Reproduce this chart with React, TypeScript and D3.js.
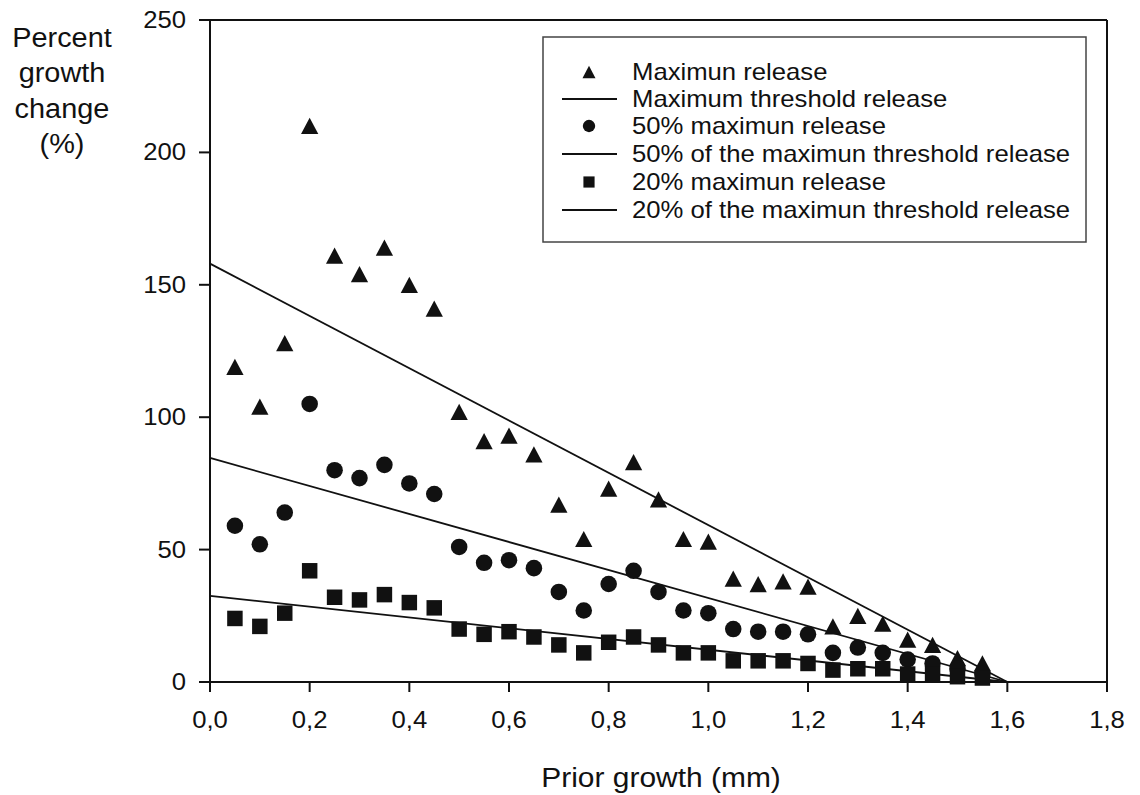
import React from "react";
import * as d3 from "d3";

const priorGrowth = [0.05, 0.1, 0.15, 0.2, 0.25, 0.3, 0.35, 0.4, 0.45, 0.5, 0.55, 0.6, 0.65, 0.7, 0.75, 0.8, 0.85, 0.9, 0.95, 1.0, 1.05, 1.1, 1.15, 1.2, 1.25, 1.3, 1.35, 1.4, 1.45, 1.5, 1.55];
const maxRelease = [119, 104, 128, 210, 161, 154, 164, 150, 141, 102, 91, 93, 86, 67, 54, 73, 83, 69, 54, 53, 39, 37, 38, 36, 21, 25, 22, 16, 14, 9, 7];
const halfRelease = [59, 52, 64, 105, 80, 77, 82, 75, 71, 51, 45, 46, 43, 34, 27, 37, 42, 34, 27, 26, 20, 19, 19, 18, 11, 13, 11, 8.5, 7, 5, 3];
const fifthRelease = [24, 21, 26, 42, 32, 31, 33, 30, 28, 20, 18, 19, 17, 14, 11, 15, 17, 14, 11, 11, 8, 8, 8, 7, 4.5, 5, 5, 3, 3, 2, 1.5];

const thresholdX = [0, 1.6];
const maxThreshold = [158, 0];
const halfThreshold = [84.6, 0];
const fifthThreshold = [32.5, 0];

const xTicks = [0, 0.2, 0.4, 0.6, 0.8, 1.0, 1.2, 1.4, 1.6, 1.8];
const yTicks = [0, 50, 100, 150, 200, 250];
const yTitleLines = ["Percent", "growth", "change", "(%)"];
const legendItems = [
  { label: "Maximun release", kind: "triangle" },
  { label: "Maximum threshold release", kind: "line" },
  { label: "50% maximun release", kind: "circle" },
  { label: "50% of the maximun threshold release", kind: "line" },
  { label: "20% maximun release", kind: "square" },
  { label: "20% of the maximun threshold release", kind: "line" },
];

const FONT = "'Liberation Sans', Arial, Helvetica, sans-serif";
const INK = "#111";
const SX = 1.07;

// triangle a bit taller than equilateral, centred on its bounding box middle
const tallTriangle = {
  draw(context: any, size: number) {
    const w = Math.sqrt(size * 2 / 0.94);
    const h = w * 0.94;
    context.moveTo(0, -h / 2);
    context.lineTo(w / 2, h / 2);
    context.lineTo(-w / 2, h / 2);
    context.closePath();
  },
};

function T(props: { x: number; y: number; size: number; anchor?: string; children: React.ReactNode }) {
  return (
    <text
      transform={`translate(${props.x},${props.y}) scale(${SX},1)`}
      textAnchor={props.anchor || "start"}
      fontSize={props.size}
      fill={INK}
    >
      {props.children}
    </text>
  );
}

export default function App() {
  const x = d3.scaleLinear().domain([0, 1.8]).range([210, 1107]);
  const y = d3.scaleLinear().domain([0, 250]).range([682, 20]);
  const fmt = (v: number) => d3.format(".1f")(v).replace(".", ",");

  const tri = d3.symbol().type(tallTriangle as any).size(140)()!;
  const circ = d3.symbol().type(d3.symbolCircle).size(215)()!;
  const sq = d3.symbol().type(d3.symbolSquare).size(240)()!;
  const triL = d3.symbol().type(tallTriangle as any).size(80)()!;
  const circL = d3.symbol().type(d3.symbolCircle).size(120)()!;
  const sqL = d3.symbol().type(d3.symbolSquare).size(125)()!;

  const line = d3
    .line<number>()
    .x((_, i) => x(thresholdX[i]))
    .y((d) => y(d));

  const [x0, x1] = x.range();
  const [y0, y1] = y.range();

  const legendBaselines = [80, 107, 134, 162, 190, 218];

  return (
    <svg
      width={1140}
      height={795}
      style={{ position: "absolute", left: 0, top: 0, background: "#fff" }}
      fontFamily={FONT}
    >
      <rect x={0} y={0} width={1140} height={795} fill="#fff" />
      {/* frame */}
      <line x1={x0} x2={x0} y1={y1} y2={y0} stroke={INK} strokeWidth={2} />
      <line x1={x0} x2={x1} y1={y0} y2={y0} stroke={INK} strokeWidth={2} />
      <line x1={x0} x2={x1} y1={y1} y2={y1} stroke={INK} strokeWidth={2} />
      <line x1={x1} x2={x1} y1={y1} y2={y0} stroke={INK} strokeWidth={2} />

      {/* y ticks */}
      {yTicks.map((t) => (
        <g key={"y" + t}>
          <line x1={x0 - 11} x2={x0} y1={y(t)} y2={y(t)} stroke={INK} strokeWidth={2} />
          <T x={186} y={y(t) + 8} size={24} anchor="end">
            {t}
          </T>
        </g>
      ))}
      {/* x ticks */}
      {xTicks.map((t) => (
        <g key={"x" + t}>
          <line x1={x(t)} x2={x(t)} y1={y0} y2={y0 + 10} stroke={INK} strokeWidth={2} />
          <T x={x(t)} y={728} size={24} anchor="middle">
            {fmt(t)}
          </T>
        </g>
      ))}

      {/* titles */}
      {yTitleLines.map((s, i) => (
        <T key={s} x={62} y={47 + i * 35.3} size={27} anchor="middle">
          {s}
        </T>
      ))}
      <T x={661} y={787} size={28} anchor="middle">
        Prior growth (mm)
      </T>

      {/* threshold lines */}
      {[maxThreshold, halfThreshold, fifthThreshold].map((s, i) => (
        <path key={"l" + i} d={line(s)!} fill="none" stroke={INK} strokeWidth={1.8} />
      ))}

      {/* points */}
      {maxRelease.map((v, i) => (
        <path key={"t" + i} d={tri} transform={`translate(${x(priorGrowth[i])},${y(v)})`} fill={INK} />
      ))}
      {halfRelease.map((v, i) => (
        <path key={"c" + i} d={circ} transform={`translate(${x(priorGrowth[i])},${y(v)})`} fill={INK} />
      ))}
      {fifthRelease.map((v, i) => (
        <path key={"s" + i} d={sq} transform={`translate(${x(priorGrowth[i])},${y(v)})`} fill={INK} />
      ))}

      {/* legend */}
      <rect x={543} y={37} width={543} height={205} fill="#fff" stroke="#444" strokeWidth={1.5} />
      {legendItems.map((item, i) => {
        const by = legendBaselines[i];
        const cy = by - 8;
        let sym: React.ReactNode = null;
        if (item.kind === "line") {
          sym = <line x1={562} x2={617} y1={cy} y2={cy} stroke={INK} strokeWidth={1.8} />;
        } else {
          const d = item.kind === "triangle" ? triL : item.kind === "circle" ? circL : sqL;
          sym = <path d={d} transform={`translate(589,${cy})`} fill={INK} />;
        }
        return (
          <g key={item.label}>
            {sym}
            <T x={632} y={by} size={24}>
              {item.label}
            </T>
          </g>
        );
      })}
    </svg>
  );
}
